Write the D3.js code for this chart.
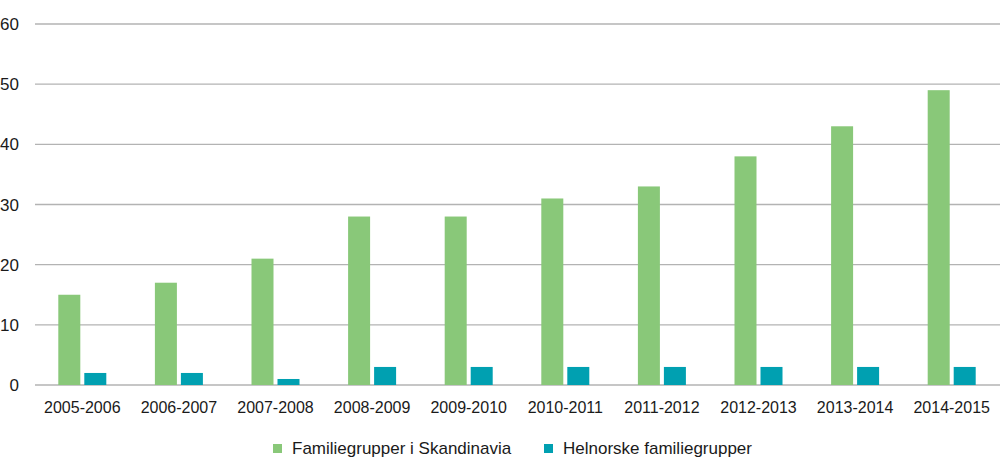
<!DOCTYPE html>
<html>
<head>
<meta charset="utf-8">
<script src="https://cdn.jsdelivr.net/npm/d3@7"></script>
<style>
  body { margin: 0; background: #fff; }
  text { font-family: "Liberation Sans", Arial, sans-serif; fill: #1a1a1a; }
</style>
</head>
<body>
<div id="container"></div>
<script>
const seasons = ["2005-2006", "2006-2007", "2007-2008", "2008-2009", "2009-2010",
  "2010-2011", "2011-2012", "2012-2013", "2013-2014", "2014-2015"];
const skandinavia = [15, 17, 21, 28, 28, 31, 33, 38, 43, 49];
const helnorske = [2, 2, 1, 3, 3, 3, 3, 3, 3, 3];
const seriesNames = ["Familiegrupper i Skandinavia", "Helnorske familiegrupper"];
const colors = ["#89c879", "#00a0b1"];
const yTicks = [0, 10, 20, 30, 40, 50, 60];

const width = 1000, height = 474;
const margin = { left: 34, right: 0, top: 24, bottom: 89 };

const svg = d3.select("#container").append("svg")
  .attr("width", width).attr("height", height);

const x = d3.scaleBand()
  .domain(seasons)
  .range([margin.left, width - margin.right]);

const y = d3.scaleLinear()
  .domain([0, 60])
  .range([height - margin.bottom, margin.top]);

// gridlines
svg.append("g")
  .selectAll("line")
  .data(yTicks)
  .join("line")
  .attr("x1", 35)
  .attr("x2", width)
  .attr("y1", d => y(d))
  .attr("y2", d => y(d))
  .attr("stroke", "#b3b3b3")
  .attr("stroke-width", 1.3);

// y labels
svg.append("g")
  .selectAll("text")
  .data(yTicks)
  .join("text")
  .attr("x", 19)
  .attr("y", d => y(d) + 6)
  .attr("text-anchor", "end")
  .attr("font-size", 17)
  .text(d => d);

const barW = 22, gap = 4;
const series = [skandinavia, helnorske];

series.forEach((vals, s) => {
  svg.append("g")
    .selectAll("rect")
    .data(vals)
    .join("rect")
    .attr("x", (d, i) => x(seasons[i]) + x.bandwidth() / 2 - barW - gap / 2 + s * (barW + gap))
    .attr("y", d => y(d))
    .attr("width", barW)
    .attr("height", d => y(0) - y(d))
    .attr("fill", colors[s]);
});

// x labels
svg.append("g")
  .selectAll("text")
  .data(seasons)
  .join("text")
  .attr("x", d => x(d) + x.bandwidth() / 2)
  .attr("y", 413)
  .attr("text-anchor", "middle")
  .attr("font-size", 16)
  .text(d => d);

// legend
const legendX = [273, 544];
const legend = svg.append("g")
  .selectAll("g")
  .data(seriesNames)
  .join("g")
  .attr("transform", (d, i) => `translate(${legendX[i]},448)`);
legend.append("rect")
  .attr("x", 0).attr("y", -4)
  .attr("width", 9).attr("height", 9)
  .attr("fill", (d, i) => colors[i]);
legend.append("text")
  .attr("x", 19).attr("y", 6)
  .attr("font-size", 17)
  .text(d => d);
</script>
</body>
</html>
